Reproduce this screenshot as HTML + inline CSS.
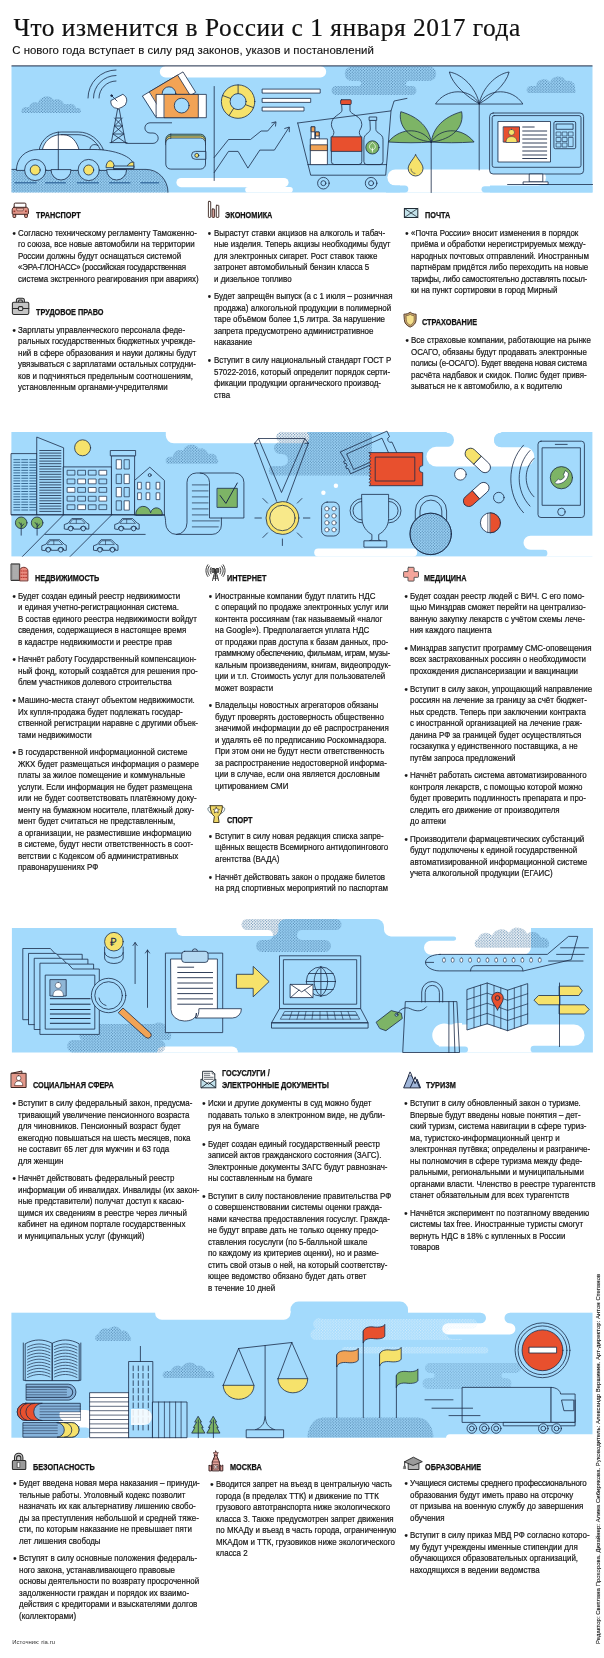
<!DOCTYPE html>
<html lang="ru">
<head>
<meta charset="utf-8">
<title>Что изменится в России с 1 января 2017 года</title>
<style>
html,body{margin:0;padding:0;background:#fff;}
body{width:604px;height:1658px;position:relative;overflow:hidden;font-family:"Liberation Sans",sans-serif;color:#1a1a1a;}
.abs{position:absolute;}
h1,.sub,.sec,.hd,.src,.cred{filter:grayscale(1);}
h1{position:absolute;margin:0;left:13.4px;top:12.4px;font-family:"Liberation Serif",serif;font-weight:normal;font-size:25.4px;line-height:30px;letter-spacing:0.53px;white-space:nowrap;color:#111;-webkit-text-stroke:.2px #111;}
.sub{position:absolute;left:12.2px;top:42.7px;font-size:11.4px;letter-spacing:.03px;-webkit-text-stroke:.12px #111;line-height:14px;white-space:nowrap;color:#111;}
.sec{position:absolute;white-space:nowrap;font-size:8.5px;line-height:11.5px;color:#161616;-webkit-text-stroke:.2px #161616;transform:scaleX(0.9353);transform-origin:0 0;}
.sec p{margin:0 0 6.2px 0;position:relative;}
.sec p i{position:absolute;font-style:normal;top:0;font-size:10px;margin-left:-.6px;}
.hd{position:absolute;white-space:nowrap;font-weight:bold;font-size:8.6px;line-height:11.8px;transform:scaleX(0.85);transform-origin:0 0;color:#111;-webkit-text-stroke:.25px #111;}
.ban{position:absolute;left:0;width:604px;overflow:visible;}
.ico{position:absolute;overflow:visible;}
.ln{stroke:#1b2b48;stroke-width:.8;stroke-linejoin:round;stroke-linecap:round;}
.src{position:absolute;left:12.2px;top:1637.9px;font-size:5.9px;line-height:8px;letter-spacing:.06px;color:#333;white-space:nowrap;}
.cred{position:absolute;left:593.8px;top:1643.7px;font-size:5.9px;line-height:8px;letter-spacing:.065px;color:#151515;-webkit-text-stroke:.12px #151515;white-space:nowrap;transform:rotate(-90deg);transform-origin:0 0;}
</style>
</head>
<body>
<h1>Что изменится в России с 1 января 2017 года</h1>
<div class="sub">С нового года вступает в силу ряд законов, указов и постановлений</div>
<svg class="ban" style="top:60px;height:140px" viewBox="0 60 604 140">
<defs>
<pattern id="ht" width="2.8" height="2.8" patternUnits="userSpaceOnUse"><circle cx=".7" cy=".7" r=".6" fill="#40739f"/><circle cx="2.1" cy="2.1" r=".6" fill="#40739f"/></pattern>
</defs>
<!-- sky -->
<rect x="11.5" y="66" width="581" height="126.5" fill="#a3dafc"/>
<!-- white cloud cut-outs -->
<g fill="#fff">
<path d="M165.5 66H320.5a5.7 5.7 0 0 1 0 11.4H165.5a5.7 5.7 0 0 1 0-11.4z"/>
<path d="M181 178H284a4.600 4.600 0 0 1 0 9.200H181a4.600 4.600 0 0 1 0-9.200z"/>
<path d="M248 187h42a2.800 2.800 0 0 1 0 5.600h-42a2.800 2.800 0 0 1 0-5.600z"/>
<path d="M395.400 169.500H538a8 8 0 0 1 0 16H395.400a8 8 0 0 1 0-16z"/>
<path d="M400 184h90v8.600h-90z"/>
</g>
<path d="M386 185.500h18.800a3.500 3.500 0 0 1 0 7h-18.800z" fill="#a3dafc"/><path d="M484.700 186.200h107.800v6.300h-107.800a3.150 3.150 0 0 1 0-6.300z" fill="#a3dafc"/>
<!-- halftone clouds -->
<g fill="url(#ht)">
<path d="M22 113a4 4 0 0 1 3-6h4a6 6 0 0 1 9-4a9 9 0 0 1 16-3a7 7 0 0 1 10 4h6a5 5 0 0 1 6 4h3a3 3 0 0 1 1 5z"/>
<path d="M352 66.500h77a7.250 7.250 0 0 1 0 14.500h-20a2.500 2.500 0 0 0-1 5h4a4.500 4.500 0 0 1 0 9h-76a4.500 4.500 0 0 1 0-9h22a2.500 2.500 0 0 0 1-5h-7a7.250 7.250 0 0 1 0-14.500z"/>
<path d="M528 93a4 4 0 0 1 2-7h6a8 8 0 0 1 14-4a9 9 0 0 1 16-1a7 7 0 0 1 9 8a3 3 0 0 1 0 4z"/>
<path d="M11.500 169.400H146a22 23.100 0 0 1 22 23.100H11.500z"/>
</g>
<line x1="11.5" y1="65.9" x2="592.5" y2="65.9" stroke="#1b2b48" stroke-width="1"/>
<!-- ground dashes -->
<g stroke="#3f74a6" stroke-width="1.400" fill="none"><path d="M14.600 182.800h22M45 182.800h21M77 182.800h22M109 182.800h21.500M140.400 182.800h18.600"/></g>
<path d="M11.500 169.400H146a22 23.100 0 0 1 22 23.100" fill="none" stroke="#1b2b48" stroke-width=".8"/>
<g class="ln">
<!-- car -->
<path d="M39.200 149.500c2-10 11-17.500 22-17.500h17c12 0 21 8 25.100 17.500z" fill="#a3dafc"/>
<path d="M42.400 149.500c1.500-8 9-14.800 18-14.800h3c8 0 13.500 7 15.600 14.800z" fill="#fff"/>
<path d="M61 134.700h17c10 0 18 6 22.300 14.800" fill="none"/>
<path d="M90 149.500c-.5-4 4-6.500 8-4" fill="none"/>
<path d="M16.400 170c0-11 8-20.500 22-20.500h55.600c20 0 39.800 7 39.800 16.500v2.600h-20v1.400z" fill="#a3dafc"/>
<path d="M58.300 132v38" fill="none"/>
<path d="M106 167.300a4.200 6.600 0 0 1 8.400 0zM127 167.300a6.800 5.300 0 0 1 6.800-5.300v5.300z" fill="#f6e26b"/>
<path d="M114 166h19.800v2.600h-19.800z" fill="#a3dafc"/>
<circle cx="35.200" cy="170" r="10.600" fill="#a3dafc"/><circle cx="35.200" cy="170" r="5" fill="#f6e26b"/>
<circle cx="88.700" cy="170" r="10.600" fill="#a3dafc"/><circle cx="88.700" cy="170" r="5" fill="#f6e26b"/>
<path d="M51 170a10 10 0 0 0 20 0zM106.600 170a10 10 0 0 0 20 0z" fill="#a3dafc"/>
<!-- tower -->
<path d="M111.300 142.600l6.300-33.600h1.600l6.300 33.600M113 134h10.800M114.500 126h7.800M116 118h4.800M111.300 142.600l12.500-8.600-9.300-8 7.800-8M125.500 142.600l-12.500-8.600 9.300-8-7.800-8M110 142.600h17" fill="none"/>
<path d="M110.800 101a7 7 0 0 0 11.200 6.200a7 7 0 0 0 1.200-12.700z" fill="#fff"/>
<path d="M117 101l-5-5" fill="none"/><circle cx="111.600" cy="95.600" r=".9" fill="#1b2b48"/>
<path d="M99 98a17 17 0 0 1 17-17M93.500 98a22.500 22.500 0 0 1 22.500-22.500M88 98a28 28 0 0 1 28-28" fill="none"/>
<!-- wire -->
<path d="M126 143.400h27a5.200 5.200 0 0 0 0-10.400h-3a5.100 5.100 0 0 1 0-10.200h21.600" fill="none"/>
<!-- banknotes -->
<path d="M142.700 95.800l40.300-23.900 12.700 20.400-40 23.900z" fill="#fff"/>
<path d="M149.600 91.700l28-16.600 12.700 20.400-28 16.600z" fill="#f2a355"/>
<circle cx="169" cy="93.600" r="6.800" fill="#a3dafc"/>
<rect x="156.500" y="94.400" width="49.800" height="23.300" fill="#fff"/>
<rect x="164.400" y="94.400" width="33.900" height="23.300" fill="#f2a355"/>
<circle cx="181.700" cy="105.600" r="7.400" fill="#a3dafc"/>
<!-- wallet -->
<path d="M170.800 134.200h29.700a5 5 0 0 1 5 5v4h-39.700v-4a5 5 0 0 1 5-5z" fill="#8fc08a"/>
<path d="M170.800 136h29.700a5 5 0 0 1 5 5v4h-39.700v-4a5 5 0 0 1 5-5z" fill="#f6e26b"/>
<rect x="165.800" y="138" width="39.700" height="31.100" rx="5" fill="#a3dafc"/>
<path d="M205.500 151.400h-10a3.950 3.950 0 0 0 0 7.900h10z" fill="#a3dafc"/><circle cx="196.800" cy="155.400" r="2" fill="#f6e26b"/>
<!-- divider -->
<path d="M214.200 86.500v94" fill="none"/>
<!-- donut -->
<circle cx="238.100" cy="101.600" r="16.700" fill="#f6e26b"/><circle cx="238.100" cy="101.600" r="8" fill="#a3dafc"/>
<path d="M238.100 84.900v8.700M222.600 95.500l8 3M253.600 107.700l-8-3M229 115.600l4.600-7.200" fill="none"/>
<!-- bars -->
<rect x="262.500" y="89.100" width="57.700" height="4" fill="#fff"/><rect x="262.500" y="98.400" width="48.200" height="4" fill="#fff"/><rect x="262.500" y="107.200" width="41.500" height="3.800" fill="#fff"/>
<!-- line charts -->
<path d="M214.200 157.500l14.300-18h22l10.600-8.500h6.600l7.500-8.700M271.800 122.800l4.200-1 -.5 4.300" fill="none"/>
<path d="M214.200 172.600l14.300-21.200h9.600l9.800 16.700 11.900-18h14.600l14.600-22.600M284.700 128.500l4.600-1.500 0 4.800" fill="none"/>
<!-- cart -->
<path d="M297.700 123l93.300-12.100 3.100-9.900 12.800-2.600M391 110.900l-5.300 64.300h-75l-13-52.200M307.800 164.600h78.800" fill="none"/>
<circle cx="323.400" cy="183.200" r="5.800" fill="#a3dafc"/><circle cx="323.400" cy="183.200" r="2.500" fill="#a3dafc"/>
<circle cx="371.100" cy="183.200" r="5.800" fill="#a3dafc"/><circle cx="371.100" cy="183.200" r="2.500" fill="#a3dafc"/>
<!-- cigarettes -->
<rect x="311.500" y="126.800" width="3.300" height="12.100" fill="#fff"/><rect x="311.500" y="126.800" width="3.300" height="5" fill="#f2a355"/>
<rect x="315.800" y="132" width="3.400" height="7" fill="#fff"/><rect x="315.800" y="132" width="3.400" height="4" fill="#f2a355"/>
<rect x="310.700" y="138.900" width="16.700" height="25.700" fill="#fff"/><rect x="310.700" y="144.800" width="16.700" height="5.800" fill="#f2a355"/>
<!-- big bottle -->
<path d="M342 104.500h8v6c0 4 11.800 5 11.800 14c0 4-2.500 5-2.500 8s2.500 4 2.500 8v21a3 3 0 0 1-3 3h-24.400a3 3 0 0 1-3-3v-21c0-4 2.500-5 2.500-8s-2.500-4-2.500-8c0-9 10.600-10 10.600-14z" fill="none"/>
<rect x="331.400" y="136.800" width="30.400" height="14.600" fill="#e8502e"/>
<rect x="340.600" y="99.700" width="10.600" height="4.800" rx="1" fill="#e8502e"/>
<!-- small bottle -->
<path d="M370.300 120.400h5.600v9c0 4 7.100 4 7.100 10v22.200a3 3 0 0 1-3 3h-13.100a3 3 0 0 1-3-3v-22.200c0-6 6.400-6 6.400-10z" fill="none"/>
<rect x="369.500" y="117" width="7.200" height="3.400" fill="#a3dafc"/>
<circle cx="372.400" cy="147.400" r="6.600" fill="#7db466"/>
<path d="M372.400 152v-4M372.400 150c-4-1-4-5 0-7.500c4 2.500 4 6.500 0 7.500z" fill="none" stroke="#fff" stroke-width=".7"/>
<!-- green palm -->
<path d="M431.200 142v50.500" fill="none"/>
<path d="M431.200 142c-2-14-12-25-30.400-30.300c-3 14 8 28 30.400 30.300zM431.200 142c2-14 12-25 30.400-30.300c3 14-8 28-30.400 30.300zM431.200 142c-8-14-30-16-42.900 0c16 1 30 1 42.900 0zM431.200 142c8-14 30-16 42.900 0c-16 1-30 1-42.900 0z" fill="#7db466"/>
<!-- drop -->
<path d="M415.600 154.800c2.500 5 7.400 9 7.400 13.800a7.400 7.400 0 0 1-14.800 0c0-4.800 4.900-8.800 7.400-13.800z" fill="#f6e26b"/>
<path d="M411 169a4.600 4.600 0 0 0 4 4.400" fill="none" stroke-width=".6"/>
<!-- outline palm -->
<path d="M479.200 103.700v66.300" fill="none"/>
<path d="M479.200 103.700c-11-6-27-19-29.900-31.700c13 2 27 16 29.900 31.700zM479.200 103.700c11-6 27-19 29.900-31.700c-13 2-27 16-29.900 31.700zM479.200 103.700c-9-16-33-16-43.500 0zM479.200 103.700c9-16 33-16 43.500 0z" fill="none"/>
<!-- monitor -->
<rect x="489.600" y="113" width="94" height="61" rx="3.500" fill="#a3dafc"/>
<rect x="492.200" y="115.600" width="88.800" height="51.700" rx="2" fill="#a3dafc"/>
<rect x="498.300" y="121.500" width="52.200" height="40.500" fill="#fff"/>
<rect x="503.600" y="126.800" width="15.900" height="15.300" fill="#e8502e"/>
<path d="M506 142.100c0-4 2.500-5.500 5.500-5.500s5.500 1.500 5.500 5.500zM511.500 129.300a3 3 0 1 1 0 6a3 3 0 1 1 0-6z" fill="#f6e26b" stroke-width=".5"/>
<path d="M522.700 127h11.500M522.700 131h24M522.700 135h24M522.700 139h24M522.700 143h24M522.700 147h24M522.700 151h24M522.700 155h24M522.700 158.500h24" fill="none" stroke-width=".9"/>
<rect x="553.900" y="121.500" width="21.800" height="27.200" rx="1.500" fill="#a3dafc"/>
<rect x="556.500" y="124" width="16.600" height="5.300" fill="#a3dafc"/>
<path d="M556.500 132h4.400v4h-4.400zM562.600 132h4.400v4h-4.400zM568.700 132h4.400v4h-4.400zM556.500 137.500h4.400v4h-4.400zM562.600 137.500h4.400v4h-4.400zM568.700 137.500h4.400v9h-4.400zM556.500 143h4.400v4h-4.400zM562.600 143h4.400v4h-4.400z" fill="#a3dafc" stroke-width=".6"/>
<path d="M529.600 174h13.200v7.900h-13.200z" fill="#fff"/><rect x="523.500" y="181.900" width="24.600" height="2.600" fill="#fff"/>
<path d="M507.600 184.500h85" fill="none"/>
</g>
</svg>

<svg class="ban" style="top:420px;height:140px" viewBox="0 420 604 140">
<rect x="11.4" y="432" width="581" height="124.400" fill="#a3dafc"/>
<g fill="#fff">
<path d="M165.800 431h139.200a6.600 6.600 0 0 1 0 12.300h-131.200a8 8 0 0 1-8-8z"/>
<path d="M446.700 432.700a7.300 7.300 0 0 1 0 14.600h54.600a7.300 7.300 0 0 1 0-14.600v-2h-54.600z"/>
<path d="M436.200 446.800h88.300a9.800 9.800 0 0 1 0 19.600h-88.300a9.800 9.800 0 0 1 0-19.600z"/>
<path d="M318.200 548.500h95a4 4 0 0 1 0 8h-95a4 4 0 0 1 0-8z"/>
<path d="M530.500 535.800h62.500v14h-62.500a7 7 0 0 1 0-14z"/>
<path d="M544 549h49v7.600h-49a3.300 3.300 0 0 0 0-6.800z"/>
</g>
<path d="M501.300 432.700h30v14.600h-30a7.300 7.300 0 0 1 0-14.600z" fill="#a3dafc"/>
<g fill="url(#ht)">
<path d="M167 463.700a4 4 0 0 1 2-7h4a7 7 0 0 1 10-6a9 9 0 0 1 16-2a7 7 0 0 1 9 5h4a5 5 0 0 1 5 5a3 3 0 0 1 0 5z"/>
<path d="M283 432h86a4 4 0 0 1 3 5v34a4 4 0 0 1-4 4.600h-95a5 5 0 0 1-1-9.600h10a6 6 0 0 0 0-12h-2a6 6 0 0 1 0-12a5 5 0 0 1 3-10z"/>
</g>
<g class="ln">
<rect x="11.400" y="453.600" width="25.700" height="61.200" fill="#a3dafc"/>
<path d="M13.800 459.7h6.100M21.700 459.7h6.100M29.700 459.7h6.100M13.800 462.3h6.100M21.700 462.3h6.100M29.700 462.3h6.100M13.800 465.0h6.100M21.700 465.0h6.100M29.700 465.0h6.100M13.800 467.6h6.100M21.700 467.6h6.100M29.700 467.6h6.100M13.800 470.3h6.100M21.700 470.3h6.100M29.700 470.3h6.100M13.800 472.9h6.100M21.700 472.9h6.100M29.700 472.9h6.100M13.800 475.6h6.100M21.700 475.6h6.100M29.700 475.6h6.100M13.800 478.2h6.100M21.700 478.2h6.100M29.700 478.2h6.100M13.800 480.9h6.100M21.700 480.9h6.100M29.700 480.9h6.100M13.800 483.5h6.100M21.700 483.5h6.100M29.700 483.5h6.100M13.800 486.2h6.100M21.700 486.2h6.100M29.700 486.2h6.100M13.800 488.8h6.100M21.700 488.8h6.100M29.700 488.8h6.100M13.800 491.5h6.100M21.700 491.5h6.100M29.700 491.5h6.100M13.800 494.1h6.100M21.700 494.1h6.100M29.700 494.1h6.100M13.800 496.8h6.100M21.700 496.8h6.100M29.700 496.8h6.100M13.800 499.4h6.100M21.700 499.4h6.100M29.700 499.4h6.100M13.800 502.1h6.100M21.700 502.1h6.100M29.700 502.1h6.100M13.800 504.7h6.100M21.700 504.7h6.100M29.700 504.7h6.100M13.800 507.4h6.100M21.700 507.4h6.100M29.700 507.4h6.100M13.800 510.0h6.100M21.700 510.0h6.100M29.700 510.0h6.100" fill="none" stroke-width=".9" stroke="#2d5c86"/>
<path d="M37.100 437.200l26.500 10.600v67h-26.500z" fill="#a3dafc"/>
<path d="M39.700 450.5h21.200M39.700 453.1h21.200M39.700 455.8h21.200M39.700 458.4h21.200M39.700 461.1h21.200M39.700 463.7h21.200M39.700 466.4h21.200M39.700 469.0h21.200M39.700 471.7h21.200M39.700 474.3h21.200M39.700 477.0h21.200M39.700 479.6h21.200M39.700 482.3h21.200M39.700 484.9h21.200M39.700 487.6h21.200M39.700 490.2h21.200M39.700 492.9h21.200M39.700 495.5h21.200M39.700 498.2h21.200M39.700 500.8h21.200M39.700 503.5h21.200M39.700 506.1h21.200M39.700 508.8h21.200M39.700 511.4h21.200" fill="none" stroke-width=".8"/>
<rect x="63.600" y="466.900" width="48.200" height="47.900" fill="#a3dafc"/>
<rect x="67.5" y="470.3" width="7.400" height="4.800" fill="#a3dafc" stroke-width=".7"/>
<rect x="78.1" y="470.3" width="7.400" height="4.800" fill="#a3dafc" stroke-width=".7"/>
<rect x="88.7" y="470.3" width="7.400" height="4.800" fill="#a3dafc" stroke-width=".7"/>
<rect x="99.3" y="470.3" width="7.400" height="4.800" fill="#fff" stroke-width=".7"/>
<rect x="67.5" y="479" width="7.400" height="4.800" fill="#a3dafc" stroke-width=".7"/>
<rect x="78.1" y="479" width="7.400" height="4.800" fill="#fff" stroke-width=".7"/>
<rect x="88.7" y="479" width="7.400" height="4.800" fill="#fff" stroke-width=".7"/>
<rect x="99.3" y="479" width="7.400" height="4.800" fill="#a3dafc" stroke-width=".7"/>
<rect x="67.5" y="487.5" width="7.400" height="4.800" fill="#fff" stroke-width=".7"/>
<rect x="78.1" y="487.5" width="7.400" height="4.800" fill="#a3dafc" stroke-width=".7"/>
<rect x="88.7" y="487.5" width="7.400" height="4.800" fill="#fff" stroke-width=".7"/>
<rect x="99.3" y="487.5" width="7.400" height="4.800" fill="#a3dafc" stroke-width=".7"/>
<rect x="67.5" y="496.3" width="7.400" height="4.800" fill="#a3dafc" stroke-width=".7"/>
<rect x="78.1" y="496.3" width="7.400" height="4.800" fill="#a3dafc" stroke-width=".7"/>
<rect x="88.7" y="496.3" width="7.400" height="4.800" fill="#a3dafc" stroke-width=".7"/>
<rect x="99.3" y="496.3" width="7.400" height="4.800" fill="#fff" stroke-width=".7"/>
<rect x="67.5" y="504.8" width="7.400" height="4.800" fill="#a3dafc" stroke-width=".7"/>
<rect x="78.1" y="504.8" width="7.400" height="4.800" fill="#fff" stroke-width=".7"/>
<rect x="88.7" y="504.8" width="7.400" height="4.800" fill="#a3dafc" stroke-width=".7"/>
<rect x="99.3" y="504.8" width="7.400" height="4.800" fill="#a3dafc" stroke-width=".7"/>
<rect x="111.800" y="455.800" width="22.800" height="59" fill="#a3dafc"/><rect x="110.700" y="450.500" width="24.900" height="5.300" fill="#a3dafc"/>
<rect x="116.6" y="459.7" width="4.800" height="9.300" fill="#fff" stroke-width=".7"/>
<rect x="124.5" y="459.7" width="4.800" height="9.300" fill="#a3dafc" stroke-width=".7"/>
<rect x="116.6" y="474.3" width="4.800" height="9.300" fill="#a3dafc" stroke-width=".7"/>
<rect x="124.5" y="474.3" width="4.800" height="9.300" fill="#fff" stroke-width=".7"/>
<rect x="116.6" y="487.5" width="4.800" height="9.300" fill="#fff" stroke-width=".7"/>
<rect x="124.5" y="487.5" width="4.800" height="9.300" fill="#a3dafc" stroke-width=".7"/>
<rect x="116.6" y="500.8" width="4.800" height="9.300" fill="#a3dafc" stroke-width=".7"/>
<rect x="124.5" y="500.8" width="4.800" height="9.300" fill="#fff" stroke-width=".7"/>
<path d="M134.600 514.800v-34.400l15.200-13.200 14.600 13.200v34.400z" fill="#a3dafc"/><circle cx="149.700" cy="475.100" r="1.500" fill="#a3dafc"/>
<rect x="138" y="482.3" width="3.300" height="6.800" fill="#fff" stroke-width=".7"/>
<rect x="146.5" y="482.3" width="3.300" height="6.800" fill="#fff" stroke-width=".7"/>
<rect x="156.5" y="482.3" width="3.300" height="6.800" fill="#fff" stroke-width=".7"/>
<rect x="138" y="492.8" width="3.300" height="6.800" fill="#fff" stroke-width=".7"/>
<rect x="146.5" y="492.8" width="3.300" height="6.800" fill="#fff" stroke-width=".7"/>
<rect x="156.5" y="492.8" width="3.300" height="6.800" fill="#fff" stroke-width=".7"/>
<path d="M135.800 514.800a7.400 7.400 0 0 1 14.800-2a5.800 5.800 0 0 1 11.700 2z" fill="#7db466"/>
<circle cx="82.600" cy="447.800" r="8" fill="#f6e26b"/>
<path d="M11.400 514.800h153M63.600 514.800l-41.100 41.600M111.800 514.800l-41.600 41.600M45 534.400h100.200" fill="none"/>
<circle cx="21.2" cy="522.800" r="5.800" fill="#7db466"/><path d="M21.2 535.200v-12M21.2 527l2.500-3M21.2 525l-2-2.500" fill="none"/>
<circle cx="37.1" cy="522.800" r="5.800" fill="#7db466"/><path d="M37.1 535.200v-12M37.1 527l2.500-3M37.1 525l-2-2.500" fill="none"/>
<path d="M64.3 528.6v-4l4-1.500 3.500-4.500h10.500l4.500 4.500 2 1v5h-2.500a3 3 0 0 0-6 0h-6.500a3 3 0 0 0-6 0z" fill="#a3dafc"/><path d="M69.8 523.1l2.800-3.500h8.700l3.500 3.500zM76.3 519.6v3.500" fill="none" stroke-width=".6"/><circle cx="70.8" cy="528.6" r="2.300" fill="#a3dafc"/><circle cx="83.3" cy="528.6" r="2.300" fill="#a3dafc"/>
<path d="M114.7 528.6v-4l4-1.500 3.500-4.500h10.500l4.500 4.500 2 1v5h-2.500a3 3 0 0 0-6 0h-6.500a3 3 0 0 0-6 0z" fill="#a3dafc"/><path d="M120.2 523.1l2.800-3.500h8.700l3.500 3.500zM126.7 519.6v3.500" fill="none" stroke-width=".6"/><circle cx="121.2" cy="528.6" r="2.300" fill="#a3dafc"/><circle cx="133.7" cy="528.6" r="2.300" fill="#a3dafc"/>
<path d="M41.8 549.8v-4l4-1.500 3.500-4.500h10.500l4.500 4.500 2 1v5h-2.500a3 3 0 0 0-6 0h-6.500a3 3 0 0 0-6 0z" fill="#a3dafc"/><path d="M47.3 544.3l2.800-3.500h8.700l3.500 3.500zM53.8 540.8v3.500" fill="none" stroke-width=".6"/><circle cx="48.3" cy="549.8" r="2.300" fill="#a3dafc"/><circle cx="60.8" cy="549.8" r="2.300" fill="#a3dafc"/>
<path d="M93.5 549.8v-4l4-1.500 3.500-4.500h10.500l4.500 4.500 2 1v5h-2.500a3 3 0 0 0-6 0h-6.500a3 3 0 0 0-6 0z" fill="#a3dafc"/><path d="M99.0 544.3l2.800-3.500h8.700l3.500 3.500zM105.5 540.8v3.500" fill="none" stroke-width=".6"/><circle cx="100.0" cy="549.8" r="2.300" fill="#a3dafc"/><circle cx="112.5" cy="549.8" r="2.300" fill="#a3dafc"/>
<path d="M164.400 514.800c1 3 1.200 5 1.200 8a10.700 11.600 0 0 0 21.400 0v-40.500a9.300 9.300 0 0 1 9.300-9.300h38.300a9.300 9.300 0 0 1 9.300 9.300v35.700h-34.400v-35.700a9.300 9.300 0 0 0-9.300-9.300" fill="none"/>
<path d="M176.400 534.400h35.700a9.300 9.300 0 0 0 9.300-9.300v-7.100" fill="none"/>
<path d="M192.300 484.9h15.800M192.300 490.9h15.800M192.300 496.9h15.800M192.300 502.9h15.800M192.300 508.9h15.800M192.300 514.9h15.800M192.300 520.900h27M192.300 526.900h26" fill="none" stroke-width=".7"/>
<rect x="217.400" y="488.300" width="19.900" height="19.100" fill="#7db466"/><path d="M220.100 495.500l5.800 7.900 11.400-20.400" fill="none" stroke-width="1"/>
<path d="M254.600 443.300l3.900-4.800h46.400l3.400 4.800M254.600 443.300l22 58M258.500 438.500l23 54 23.400-54M308.300 443.300l-21.500 58M254.600 443.300h3.500M308.300 443.300h-3.500" fill="none"/>
<circle cx="282.400" cy="518" r="16.400" fill="#f6e26b"/><circle cx="282.400" cy="518" r="12.700" fill="#f8e98a"/>
<path d="M261.400 518h-6.500M303.400 518h6.500M282.400 539v6.500M267.500 532.900l-4.600 4.600M297.300 532.900l4.600 4.600M267.500 503.100l-4.600-4.600M297.300 503.100l4.600-4.600" fill="none"/>
<rect x="321.600" y="502.100" width="17.700" height="33.900" rx="5.500" fill="#a3dafc"/>
<circle cx="326.9" cy="508.7" r="2.200" fill="#fff" stroke-width=".6"/>
<circle cx="334" cy="508.7" r="2.200" fill="#fff" stroke-width=".6"/>
<circle cx="326.9" cy="515.9" r="2.200" fill="#fff" stroke-width=".6"/>
<circle cx="334" cy="515.9" r="2.200" fill="#fff" stroke-width=".6"/>
<circle cx="326.9" cy="522.8" r="2.200" fill="#fff" stroke-width=".6"/>
<circle cx="334" cy="522.8" r="2.200" fill="#fff" stroke-width=".6"/>
<circle cx="326.9" cy="529.7" r="2.200" fill="#fff" stroke-width=".6"/>
<circle cx="334" cy="529.7" r="2.200" fill="#fff" stroke-width=".6"/>
<circle cx="323.400" cy="492.800" r="2.200" fill="#fff" stroke="none"/><circle cx="335.900" cy="485.700" r="2.200" fill="#fff" stroke="none"/>
<path d="M340.600 451.800l46.400-20.700 2.500 5.500a3 3 0 0 0 2.500 5.500l5 11-46.400 20.700-2.500-5.500-1.500.5-1-2.500 1.500-.5-1-2.500-1.500.5-1-2.500 1.500-.5z" fill="none"/>
<path d="M347 453.800l35-15.600 7 15.600-35 15.600z" fill="none"/>
<path d="M369.200 452.600h53.500v13a3.500 3.500 0 0 0 0 7v13.100h-53.500l1.500-1.650-1.500-1.650l1.500-1.650-1.500-1.650l1.500-1.650-1.500-1.650l1.500-1.650-1.500-1.650l1.500-1.650-1.500-1.650l1.500-1.650-1.500-1.650l1.500-1.650-1.500-1.650l1.500-1.650-1.500-1.650l1.500-1.650-1.500-1.650l1.500-1.650-1.500-1.650z" fill="#e8502e"/>
<rect x="375.600" y="457.100" width="39.200" height="23.900" fill="none"/>
<path d="M362.300 498.500a12.200 12.200 0 0 0 0 24.400M388.800 498.500a12.200 12.200 0 0 1 0 24.400M362.300 501.400a9.300 9.300 0 0 0 0 18.600M388.800 501.400a9.300 9.300 0 0 1 0 18.600" fill="none"/>
<path d="M362 494.400h26.600v24c0 8-5 13.500-9.900 16.100l0 5.300 2.500 1h-11.800l2.500-1 0-5.300c-4.900-2.600-9.900-8.100-9.900-16.100z" fill="#a3dafc"/>
<rect x="364.300" y="540.800" width="22.500" height="6.400" fill="#a3dafc"/>
<path d="M415.300 526v-15a15.650 15.650 0 0 1 31.300 0v15M420 524v-13a10.900 10.900 0 0 1 21.800 0v13" fill="none"/>
<clipPath id="kb"><circle cx="430.700" cy="533.900" r="20.700"/></clipPath><circle cx="430.700" cy="533.900" r="20.700" fill="#a3dafc"/><path d="M405 548.500h8.200a4 4 0 0 1 0 8h-8.200z" fill="#fff" stroke="none" clip-path="url(#kb)"/><circle cx="430.700" cy="533.900" r="20.700" fill="url(#ht)"/>
<g transform="translate(477.750 460.400) rotate(43.200)"><path d="M-15.400 0a5.500 5.500 0 0 1 5.500-5.500h9.900v11h-9.900a5.500 5.500 0 0 1-5.500-5.500z" fill="#f6e26b"/><path d="M0-5.500h9.900a5.500 5.500 0 0 1 0 11h-9.900z" fill="#fff"/></g>
<g transform="translate(476.200 494.500) rotate(-41.800)"><path d="M-15.400 0a5.500 5.500 0 0 1 5.500-5.500h9.900v11h-9.900a5.500 5.500 0 0 1-5.500-5.500z" fill="#e8502e"/><path d="M0-5.500h9.900a5.500 5.500 0 0 1 0 11h-9.900z" fill="#fff"/></g>
<circle cx="460.400" cy="474.300" r="5.800" fill="#fff"/><circle cx="498.800" cy="497.600" r="5.300" fill="#a3dafc"/>
<circle cx="490.400" cy="522.800" r="10" fill="#fff"/><path d="M490.400 512.800a10 10 0 0 1 0 20z" fill="#e8502e"/><path d="M487.800 513.200v19.200" fill="none" stroke-width=".6"/>
<path d="M523.500 445.200c-17 18-17 49.500 0 67.500M530 450.500c-14.500 15-14.500 40.600 0 55.600M534 458.400c-10.500 10-10.500 28.400 0 38.400" fill="none"/>
<rect x="538" y="441.200" width="46.400" height="76.300" rx="3" fill="#a3dafc"/><rect x="542.500" y="447.800" width="37.900" height="57.500" fill="#a3dafc"/>
<path d="M555.300 444.400h11.900" fill="none"/><circle cx="561.400" cy="511.900" r="3.700" fill="#a3dafc"/>
<circle cx="561.400" cy="477.700" r="11.100" fill="#7db466"/>
<path d="M565.600 470.700l2.800 2.300c.400 6-5.400 11.500-12 10.900l-1.500-1.500 3.500-3.300c1.100.900 2.100.900 2.500.800c1.600-.900 2.900-1.900 3.500-3c-.100-.900-.400-1.400-.800-2z" fill="#fff" stroke-width=".6"/>
</g></svg>
<svg class="ban" style="top:910px;height:150px" viewBox="0 910 604 150">
<rect x="11.900" y="928" width="581" height="124.500" fill="#a3dafc"/><path d="M278 940v-13a8 8 0 0 1 8-8h90a8 8 0 0 1 8 8v13z" fill="#a3dafc"/><path d="M176.400 926h101.900v4a6 6 0 0 1-6 6h-89.900a6 6 0 0 1-6-6z" fill="#fff"/><path d="M384 917h147v30a7.700 7.700 0 0 1-7.700 7.700h-92.300a7 7 0 0 1 0-14h23a2.150 2.150 0 0 0 0-4.300h-63a7 7 0 0 1-7-7z" fill="#fff"/>
<g fill="#fff">
<path d="M163 1046.500h69a6 6 0 0 1 6 6h-81a6 6 0 0 1 6-6z"/>
<path d="M449 1024.600h125a10.600 10.600 0 0 1 0 21.200h-40a3.400 3.400 0 0 0 0 6.800h-95v-6.800a10.600 10.600 0 0 1 10-21.200z"/>
<path d="M449 1031a8 8 0 0 1 8-8h5v12z"/>
</g>
<path d="M439 1046.600h26a3 3 0 0 1 0 6h-26z" fill="#a3dafc"/>
<g fill="url(#ht)">
<path d="M247 919h89a5.500 5.500 0 0 1 0 11h-34a5 5 0 0 0 0 10h23a6 6 0 0 1 0 12h-63a6 6 0 0 1 0-12h6a5 5 0 0 0 0-10h-21a5.500 5.500 0 0 1 0-11z"/>
<path d="M477 947.800a5 5 0 0 1 1-9a8 8 0 0 1 14-3a10 10 0 0 1 17-3a10 10 0 0 1 18 1a9 9 0 0 1 14 4a6 6 0 0 1 8 6a4 4 0 0 1-2 4z"/>
<path d="M82 1040a6 6 0 0 1 2-11a8 8 0 0 1 12-5h58a9 9 0 0 1 14 6a6 6 0 0 1 1 10h-9a6 6 0 0 1-2 12.500h-86a6.500 6.500 0 0 1 0-12.500z"/>
</g>
<g class="ln">
<path d="M23.2 948.5h27.200l5.300 5.800h26.500v65.400h-59z" fill="#a3dafc"/>
<path d="M28.9 953.4h27.200l5.300 5.800h26.500v65.400h-59z" fill="#a3dafc"/>
<path d="M34.6 958.3h27.200l5.300 5.800h26.500v65.400h-59z" fill="#a3dafc"/>
<path d="M40.3 963.2h27.200l5.300 5.800h26.500v65.400h-59z" fill="#a3dafc"/>
<rect x="45.600" y="975.100" width="49.200" height="54" fill="#a3dafc"/>
<rect x="50.300" y="979.600" width="15.900" height="16.400" fill="#8fb6d6"/>
<path d="M53 996c0-4.500 2-6 5.200-6s5.200 1.500 5.200 6zM58.200 982.300a3 3 0 1 1 0 6a3 3 0 1 1 0-6z" fill="#fff" stroke-width=".5"/>
<path d="M50.300 998.700h39.800M50.300 1004.200h39.800M50.300 1009.500h39.800M50.300 1014h39.800M50.300 1018.500h39.800M50.300 1023.300h39.800" fill="none" stroke-width="1"/>
<path d="M104.600 947v11a9.300 5.500 0 0 0 18.600 0v-11" fill="#a3dafc"/><path d="M104.600 952.500a9.300 5.500 0 0 0 18.600 0" fill="none"/>
<circle cx="113.900" cy="941.700" r="9.300" fill="#f6e26b"/>
<path d="M135.100 983.600v-41M133 945.500l2.100-3 2.100 3M147.500 1007.400v-57.500M145.400 953l2.100-3 2.100 3" fill="none"/>
<path d="M118.500 1012.500l4.500-4.500 27.500 25a3.200 3.200 0 0 1-4.500 4.500z" fill="#f2a355"/>
<circle cx="108.600" cy="995.500" r="17.200" fill="#a3dafc"/><circle cx="108.600" cy="995.500" r="13.800" fill="#a3dafc"/>
<path d="M99 998a10 10 0 0 0 7 7.500" fill="none"/>
<rect x="165.800" y="953.100" width="56.900" height="79.500" fill="#a3dafc"/>
<path d="M171 959h46.400v49.700h24a9 9 0 0 1-9 9.300h-37a9 9 0 0 0 1-5c0 6-6 8-12 8a13.400 11 0 0 1-13.400-11z" fill="#fff"/>
<path d="M196.400 1018c2-2 2.500-5 2.500-9.300h18.500" fill="none"/>
<path d="M177.700 967.200h16M177.700 972.500h34.900M177.700 977.700h34.900M177.700 983h34.900M177.700 988.300h34.900M177.700 993.600h34.900M177.700 998.900h34.900M177.700 1004.200h34.900" fill="none" stroke-width=".9"/>
<path d="M192.200 951.500a2.700 2.700 0 0 1 5.400 0z" fill="#b5d9f2"/><rect x="181.700" y="951.300" width="26.400" height="11.100" rx="3" fill="#b5d9f2"/>
<path d="M236.800 974.300h16.400v-7.900l15.900 15.200-15.900 15.200v-8.500h-16.400z" fill="#f6e26b"/>
<rect x="279.900" y="955.800" width="80.800" height="52.900" fill="#a3dafc"/><rect x="283.800" y="959.700" width="72.900" height="44.500" fill="#a3dafc"/>
<path d="M279.900 1008.700h80.800l7.400 14.100h-96.200zM271.900 1022.800h96.200v5.300h-96.200z" fill="#a3dafc"/>
<path d="M285 1011.500h70.500l2 3.700h-74.500zM283 1015.200h74.500l2.200 4h-79z" fill="none" stroke-width=".6"/>
<path d="M292 1011.500l-2.500 7.700M299 1011.500l-2 7.700M306 1011.500l-1.500 7.700M313 1011.500l-1 7.700M320 1011.500v7.700M327 1011.500l1 7.700M334 1011.500l1.500 7.700M341 1011.500l2 7.700M348 1011.500l2.500 7.700" fill="none" stroke-width=".6"/>
<circle cx="320.900" cy="981.500" r="14.600" fill="#a3dafc"/>
<path d="M320.900 966.900v29.200M306.300 981.500h29.200M308.500 973.500h24.800M308.500 989.500h24.800M320.900 966.900c-9 6-9 23.200 0 29.200M320.900 966.900c9 6 9 23.200 0 29.200" fill="none"/>
<rect x="290.500" y="984.400" width="22.500" height="13.200" fill="#fff"/><path d="M290.500 984.400l11.200 7.500 11.300-7.500M290.500 997.600l8.500-7.500M313 997.600l-8.500-7.500" fill="none"/>
<path d="M440 954.400h107.300l21.200-18h9.300l-6.600 23.300-47.700 11.200h-84c-7 0-14-4-14-8.500s7-8 14.500-8z" fill="#a3dafc"/>
<path d="M425.600 962.400h8" fill="none"/>
<path d="M470.500 970.900c0-3 2-5.300 5-5.300h42.500c3 0 5 2.300 5 5.300" fill="none"/>
<rect x="442.6" y="957.900" width="2.700" height="4.400" rx="1.350" fill="#fff" stroke-width=".6"/><rect x="451.3" y="957.900" width="2.700" height="4.400" rx="1.350" fill="#fff" stroke-width=".6"/><rect x="460.0" y="957.900" width="2.700" height="4.400" rx="1.350" fill="#fff" stroke-width=".6"/><rect x="468.7" y="957.900" width="2.700" height="4.400" rx="1.350" fill="#fff" stroke-width=".6"/><rect x="477.4" y="957.900" width="2.700" height="4.400" rx="1.350" fill="#fff" stroke-width=".6"/><rect x="486.1" y="957.900" width="2.700" height="4.400" rx="1.350" fill="#fff" stroke-width=".6"/><rect x="494.8" y="957.900" width="2.700" height="4.400" rx="1.350" fill="#fff" stroke-width=".6"/><rect x="503.5" y="957.900" width="2.700" height="4.400" rx="1.350" fill="#fff" stroke-width=".6"/><rect x="512.2" y="957.900" width="2.700" height="4.400" rx="1.350" fill="#fff" stroke-width=".6"/><rect x="521.0" y="957.900" width="2.700" height="4.400" rx="1.350" fill="#fff" stroke-width=".6"/><rect x="529.7" y="957.900" width="2.700" height="4.400" rx="1.350" fill="#fff" stroke-width=".6"/><rect x="538.4" y="957.900" width="2.700" height="4.400" rx="1.350" fill="#fff" stroke-width=".6"/>
<path d="M560.600 947.800h27.800M556.600 954.400h27.800M548.600 961h34.400" fill="none"/>
<path d="M421.700 1002v-10a10.500 10.500 0 0 1 21 0v10M425.200 1002v-9.500a7.100 7.100 0 0 1 14.200 0v9.500" fill="none"/>
<path d="M405.700 1001.600h51.200l2.600 50.900h-56.400z" fill="none"/><path d="M448.900 1001.600v50.900M453.400 1001.600l1.500 50.900" fill="none"/>
<path d="M376.400 1022l14.800-11.400 10.100 2.600 1 5.300-16.400 12.200-5.800-2.100z" fill="#7db466"/><circle cx="396.500" cy="1014.800" r="1.500" fill="#a3dafc"/>
<path d="M396.500 1014.800c3-5 8-9 14-6s12 3 16-2" fill="none"/>
<path d="M467.300 989.400l19.900-6.400 20.400 7.200 20.100-6.600v40.200l-20.100 6.900-20.400-6.900-19.900 6.100z" fill="#a3dafc"/>
<path d="M487.200 983v40.800M507.600 990.200v40.500" fill="none"/>
<path d="M467.300 999.500l19.900-6.400 20.400 7.200 20.100-6.600M467.300 1009.600l19.900-6.400 20.400 7.200 20.100-6.600M467.300 1019.700l19.900-6.400 20.400 7.200 20.100-6.600M474 987.300v40.500M480.600 985.100v40.500M494 985.400v40.800M500.800 987.800v40.600M514.300 988v40.400M521 985.800v40.300" fill="none" stroke-width=".7"/>
<path d="M497.500 1010c-2-4.500-5.800-7.500-5.800-11.900a5.800 5.800 0 0 1 11.600 0c0 4.400-3.800 7.400-5.800 11.900z" fill="#e8502e"/><circle cx="497.500" cy="998" r="2.300" fill="#e8502e"/>
<path d="M559.500 986.200h19.300l3.500 4.650-3.500 4.650h-19.300zM559.500 995.500h-21l-4.500 4.650 4.500 4.650h21zM559.500 1004.800h25.200l4.500 4.600-4.500 4.600h-25.200z" fill="#f6e26b"/>
<path d="M559.500 983v63.600" fill="none"/>
</g>
<text x="113.900" y="946" font-family="Liberation Sans, sans-serif" font-size="11.500" text-anchor="middle" fill="#1b2b48">₽</text>
</svg>
<svg class="ban" style="top:1295px;height:150px" viewBox="0 1295 604 150">
<defs><pattern id="hw" width="2.8" height="2.8" patternUnits="userSpaceOnUse"><circle cx=".7" cy=".7" r=".6" fill="#e4f3fd"/><circle cx="2.1" cy="2.1" r=".6" fill="#e4f3fd"/></pattern></defs>
<rect x="11.400" y="1312.700" width="581.100" height="125" fill="#a3dafc"/>
<path d="M290.500 1320v-10.400a8 8 0 0 1 8-8h101.500a8 8 0 0 1 8 8v10.400z" fill="#a3dafc"/>
<g fill="#fff">
<path d="M155.200 1311h135.300v2a6.700 6.700 0 0 1-6.700 6.700h-122a6.700 6.700 0 0 1-6.700-6.700z"/>
<path d="M480.700 1311h29.100v1.700a5.300 5.300 0 0 0 0 10.600a5.600 5.600 0 0 1 0 11.200h-62a5.600 5.600 0 0 1 0-11.200h32.900a5.300 5.300 0 0 0 0-10.600z"/>
<path d="M450 1434.200h143v4h-147a4 4 0 0 1 4-4z"/>
<path d="M66 1410h20a8 8 0 0 1 0 16h-20a8 8 0 0 1 0-16z"/><path d="M80 1425h66a6.500 6.500 0 0 1 0 13h-66z"/><path d="M118 1409h20a8 8 0 0 1 0 16h-20z"/>
</g>
<path d="M72 1427.500h14a5.200 5.200 0 0 1 0 10.400h-14z" fill="#a3dafc"/>
<path d="M120 1427.500h10v10.400h-10a5.200 5.200 0 0 1 0-10.400z" fill="#a3dafc"/>
<g fill="url(#ht)">
<path d="M96.500 1341a4 4 0 0 1 2-7a7 7 0 0 1 10-5a8 8 0 0 1 13 2a6 6 0 0 1 8 5a3.500 3.500 0 0 1 1 5z"/>
<path d="M164 1378a4 4 0 0 1 2-7h5a7 7 0 0 1 11-4a9 9 0 0 1 15-1a7 7 0 0 1 9 5h4a4 4 0 0 1 4 4a2.500 2.500 0 0 1 0 3z"/>
<path d="M323 1417.600h95a15.400 20 0 0 1 15.400 20h-125.900a15.500 20 0 0 1 15.500-20z"/>
<path opacity=".62" d="M430 1363h86a5 5 0 0 1 0 10h-12a2.500 2.500 0 0 0 0 5h2a5.500 5.500 0 0 1 0 11h-78a5.500 5.500 0 0 1 0-11h4a2.500 2.500 0 0 0 0-5h-2a5 5 0 0 1 0-10z"/>
</g>
<g fill="url(#hw)">
<path d="M322 1319h150a5 5 0 0 1 0 10h-20a5 5 0 0 0 0 10h10v1h-146a5.500 5.500 0 0 1 0-11a5 5 0 0 1 6-10z"/>
<path d="M345 1347h140a3.300 3.300 0 0 1 0 6.600h-140a3.300 3.300 0 0 1 0-6.600z"/>
</g>
<g class="ln">
<path d="M23.300 1343v37.300h57.500v-37.300" fill="#a3dafc"/>
<path d="M25.200 1380.300v-36.500c9-5 18-5 27-.5v37zM79.200 1380.300v-36.500c-9-5-18-5-27-.5v37z" fill="#a3dafc"/>
<path d="M27.500 1347.0c8-4 15-4 22.500-.500M77 1347.0c-8-4-15-4-22.500-.500M27.500 1350.0c8-4 15-4 22.500-.500M77 1350.0c-8-4-15-4-22.500-.500M27.500 1353.1c8-4 15-4 22.500-.500M77 1353.1c-8-4-15-4-22.500-.500M27.500 1356.2c8-4 15-4 22.500-.500M77 1356.2c-8-4-15-4-22.500-.500M27.500 1359.2c8-4 15-4 22.500-.500M77 1359.2c-8-4-15-4-22.500-.500M27.500 1362.2c8-4 15-4 22.500-.500M77 1362.2c-8-4-15-4-22.500-.500M27.500 1365.3c8-4 15-4 22.500-.500M77 1365.3c-8-4-15-4-22.500-.500M27.500 1368.3c8-4 15-4 22.500-.500M77 1368.3c-8-4-15-4-22.500-.500M27.500 1371.4c8-4 15-4 22.500-.500M77 1371.4c-8-4-15-4-22.500-.500M27.500 1374.5c8-4 15-4 22.500-.500M77 1374.5c-8-4-15-4-22.500-.500M27.500 1377.5c8-4 15-4 22.500-.500M77 1377.5c-8-4-15-4-22.500-.500" fill="none" stroke-width=".7"/>
<path d="M26.500 1384.200h42.300a8 8 0 0 1 0 15.900h-42.300z" fill="#86b4dc"/>
<path d="M26.500 1387h41a5.200 5.200 0 0 1 0 10.400h-41M26.500 1389.600h40M26.500 1392.200h40M26.500 1394.800h40" fill="none" stroke="#1b2b48" stroke-width=".55"/>
<path d="M26.500 1387h41a5.200 5.200 0 0 1 0 10.400h-41" fill="none" stroke-width=".6"/>
<path d="M25.800 1403.300h54.500v17.200h-54.500a8.600 8.600 0 0 1 0-17.200z" fill="#86b4dc"/>
<path d="M60 1412h20.300v8.500h-17a6 6 0 0 1-3.300-8.500z" fill="#fff" stroke="none"/><path d="M40 1406.200h40.300M40 1409h40.300M40 1411.800h40.300M40 1414.600h40.300M40 1417.400h40.300" fill="none" stroke="#1b2b48" stroke-width=".55"/>
<path d="M25.800 1403.300h16.500a8.600 8.600 0 0 0 0 17.200h-16.500a8.600 8.600 0 0 1 0-17.200z" fill="#e8502e"/>
<path d="M34.500 1403.300a8.600 8.600 0 0 0 0 17.200M27 1403.500a8.600 8.600 0 0 0 0 16.800" fill="none"/>
<path d="M23.300 1422.600h48.400a7.300 7.300 0 0 1 0 14.600h-48.400z" fill="#86b4dc"/>
<path d="M23.300 1425.300h34M23.300 1428h34M23.300 1430.700h34M23.300 1433.400h34" fill="none" stroke="#1b2b48" stroke-width=".55"/>
<path d="M57 1422.600h14.700a7.300 7.300 0 0 1 0 14.600h-14.700a7.300 7.300 0 0 0 0-14.600z" fill="#f6e26b"/>
<path d="M64.500 1422.600a7.300 7.300 0 0 1 0 14.600" fill="none"/>
<rect x="90" y="1392.700" width="39" height="45" fill="#fff"/>
<path d="M90 1397.5h39M90 1401.9h39M90 1406.3h39M90 1410.7h39M90 1415.1h39M90 1419.5h39M90 1423.9h39M90 1428.3h39M90 1432.7h39" fill="none" stroke-width=".7"/>
<rect x="129" y="1361.500" width="23.800" height="76.200" fill="#a3dafc"/><path d="M140.400 1346.400v15.100" fill="none"/>
<path d="M133.2 1366.0v4.800M138.3 1366.0v4.800M143 1366.0v4.800M148.3 1366.0v4.800M133.2 1373.4v4.800M138.3 1373.4v4.800M143 1373.4v4.800M148.3 1373.4v4.800M133.2 1380.8v4.800M138.3 1380.8v4.800M143 1380.8v4.800M148.3 1380.8v4.800M133.2 1388.2v4.800M138.3 1388.2v4.800M143 1388.2v4.800M148.3 1388.2v4.800M133.2 1395.6v4.800M138.3 1395.6v4.800M143 1395.6v4.800M148.3 1395.6v4.800M133.2 1403.0v4.800M138.3 1403.0v4.800M143 1403.0v4.800M148.3 1403.0v4.800M133.2 1410.4v4.800M138.3 1410.4v4.800M143 1410.4v4.800M148.3 1410.4v4.800M133.2 1417.8v4.800M138.3 1417.8v4.800M143 1417.8v4.800M148.3 1417.8v4.800M133.2 1425.2v4.800M138.3 1425.2v4.800M143 1425.2v4.800M148.3 1425.2v4.800" fill="none" stroke-width=".8"/>
<path d="M131 1409h13a8 8 0 0 1 0 16h-13z" fill="#fff" stroke="none" opacity=".85"/>
<rect x="152.800" y="1402" width="34.200" height="35.700" fill="#a3dafc"/><path d="M158.600 1402v35.700M164.400 1402v35.700M169.700 1402v35.700M175.600 1402v35.700M181.100 1402v35.700" fill="none" stroke-width=".7"/>
<path d="M198.3 1416.600l3.200 5.500h-1.500l3.200 5.500h-1.500l3.200 5.500h-13.200l3.200-5.500h-1.500l3.200-5.500h-1.500z" fill="#7db466"/><path d="M198.3 1420v17.700" fill="none"/>
<path d="M213.4 1416.600l3.200 5.500h-1.500l3.200 5.500h-1.500l3.200 5.500h-13.200l3.200-5.500h-1.500l3.200-5.500h-1.500z" fill="#7db466"/><path d="M213.4 1420v17.700" fill="none"/>
<path d="M238.600 1348.500l53.200-6M265.100 1345.600v71l-1 5c-1 4-5 7-9 8.200h20c-4-1.200-8-4.200-9-8.200l-1-5" fill="none"/>
<rect x="246.600" y="1429.800" width="37" height="7.900" fill="#a3dafc"/>
<path d="M238.600 1348.500l-15.400 36.800M238.600 1348.500l15.400 36.800M291.800 1342.500l-13.800 36.200M291.800 1342.500l15.900 36.200" fill="none"/>
<path d="M223.200 1385.300h30.800c0 8-7 14-15.400 14s-15.400-6-15.400-14z" fill="#f6e26b"/><path d="M278 1378.700h29.700c0 8-6.600 14.100-14.850 14.100s-14.850-6.100-14.850-14.100z" fill="#f6e26b"/>
<path d="M336.8 1354.9v62.7" fill="none"/><path d="M336.8 1354.9c1-3.500 5.500-4.600 10.500-4s10-.200 11-2.600v11.700c-1 2.400-6 3.200-11 2.600s-9.500.500-10.500 4z" fill="#f2a355"/>
<path d="M363.3 1331v86.6" fill="none"/><path d="M363.3 1331.0c1-3.500 5.500-4.600 10.500-4s10-.200 11-2.600v11.700c-1 2.400-6 3.200-11 2.600s-9.500.500-10.500 4z" fill="#e8502e"/>
<path d="M379.7 1354v63.6" fill="none"/><path d="M379.7 1354.0c1-3.500 5.500-4.600 10.500-4s10-.200 11-2.600v11.700c-1 2.400-6 3.200-11 2.600s-9.500.500-10.500 4z" fill="#f6e26b"/>
<path d="M396.4 1375.5v42.1" fill="none"/><path d="M396.4 1375.5c1-3.500 5.500-4.600 10.500-4s10-.200 11-2.600v11.700c-1 2.400-6 3.200-11 2.600s-9.500.500-10.500 4z" fill="#7db466"/>
<circle cx="542.500" cy="1350.300" r="27.400" fill="#a3dafc"/><circle cx="542.500" cy="1350.300" r="24.400" fill="#a3dafc"/><circle cx="542.500" cy="1350.300" r="20.400" fill="#e8502e"/><rect x="529.300" y="1347.200" width="27.300" height="5.800" fill="#fff"/>
<rect x="462.500" y="1387.400" width="88.800" height="35" fill="#a3dafc"/>
<path d="M551.300 1387.400c5 0 9 3 9.300 6.600h14.500v28.400h-23.800z" fill="#a3dafc"/>
<path d="M561.900 1400h11.900v10.700h-9.500zM575.100 1400v22" fill="none"/>
<path d="M503.600 1422.400h71.500v3.400h-71.500z" fill="#a3dafc"/>
<circle cx="471.8" cy="1428.500" r="4.800" fill="#a3dafc"/><circle cx="471.8" cy="1428.500" r="2.400" fill="#a3dafc"/>
<circle cx="484.3" cy="1428.500" r="4.800" fill="#a3dafc"/><circle cx="484.3" cy="1428.500" r="2.400" fill="#a3dafc"/>
<circle cx="496.2" cy="1428.500" r="4.800" fill="#a3dafc"/><circle cx="496.2" cy="1428.500" r="2.400" fill="#a3dafc"/>
<circle cx="543.3" cy="1428.500" r="4.800" fill="#a3dafc"/><circle cx="543.3" cy="1428.500" r="2.400" fill="#a3dafc"/>
<circle cx="556.6" cy="1428.500" r="4.800" fill="#a3dafc"/><circle cx="556.6" cy="1428.500" r="2.400" fill="#a3dafc"/>
<path d="M425 1399.800h28M432 1408.200h40.600M449 1415.600h31" fill="none"/>
</g></svg>
<div class="hd" style="left:35.7px;top:209.7px">ТРАНСПОРТ</div>
<div class="sec" style="left:18.2px;top:227.8px">
<p><i style="left:-5.3px">•</i>Согласно техническому регламенту Таможенно-<br>
го союза, все новые автомобили на территории<br>
России должны будут оснащаться системой<br>
<span style="letter-spacing:-0.214px">«ЭРА-ГЛОНАСС» (российская государственная</span><br>
система экстренного реагирования при авариях)</p>
</div>
<div class="hd" style="left:35.7px;top:306.7px">ТРУДОВОЕ ПРАВО</div>
<div class="sec" style="left:18.2px;top:324.7px">
<p><i style="left:-5.3px">•</i>Зарплаты управленческого персонала феде-<br>
ральных государственных бюджетных учрежде-<br>
ний в сфере образования и науки должны будут<br>
увязываться с зарплатами остальных сотрудни-<br>
ков и подчиняться предельным соотношениям,<br>
установленным органами-учредителями</p>
</div>
<div class="hd" style="left:225.2px;top:209.7px">ЭКОНОМИКА</div>
<div class="sec" style="left:213.9px;top:227.8px">
<p><i style="left:-6.0px">•</i>Вырастут ставки акцизов на алкоголь и табач-<br>
ные изделия. Теперь акцизы необходимы будут<br>
для электронных сигарет. Рост ставок также<br>
затронет автомобильный бензин класса 5<br>
и дизельное топливо</p>
<p><i style="left:-6.0px">•</i>Будет запрещён выпуск (а с 1 июля – розничная<br>
продажа) алкогольной продукции в полимерной<br>
таре объёмом более 1,5 литра. За нарушение<br>
запрета предусмотрено административное<br>
наказание</p>
<p><i style="left:-6.0px">•</i>Вступит в силу национальный стандарт ГОСТ Р<br>
57022-2016, который определит порядок серти-<br>
фикации продукции органического производ-<br>
ства</p>
</div>
<div class="hd" style="left:424.5px;top:209.7px">ПОЧТА</div>
<div class="sec" style="left:410.8px;top:227.8px">
<p><i style="left:-5.7px">•</i>«Почта России» вносит изменения в порядок<br>
приёма и обработки нерегистрируемых между-<br>
народных почтовых отправлений. Иностранным<br>
партнёрам придётся либо переходить на новые<br>
<span style="letter-spacing:-0.226px">тарифы, либо самостоятельно доставлять посыл-</span><br>
ки на пункт сортировки в город Мирный</p>
</div>
<div class="hd" style="left:421.8px;top:316.9px">СТРАХОВАНИЕ</div>
<div class="sec" style="left:410.5px;top:335.0px">
<p><i style="left:-5.3px">•</i>Все страховые компании, работающие на рынке<br>
ОСАГО, обязаны будут продавать электронные<br>
<span style="letter-spacing:-0.19px">полисы (е-ОСАГО). Будет введена новая система</span><br>
расчёта надбавок и скидок. Полис будет привя-<br>
зываться не к автомобилю, а к водителю</p>
</div>
<div class="hd" style="left:35.2px;top:572.7px">НЕДВИЖИМОСТЬ</div>
<div class="sec" style="left:18.2px;top:590.7px">
<p><i style="left:-5.3px">•</i>Будет создан единый реестр недвижимости<br>
и единая учетно-регистрационная система.<br>
В состав единого реестра недвижимости войдут<br>
сведения, содержащиеся в настоящее время<br>
в кадастре недвижимости и реестре прав</p>
<p><i style="left:-5.3px">•</i>Начнёт работу Государственный компенсацион-<br>
ный фонд, который создаётся для решения про-<br>
блем участников долевого строительства</p>
<p><i style="left:-5.3px">•</i>Машино-места станут объектом недвижимости.<br>
Их купля-продажа будет подлежать государ-<br>
ственной регистрации наравне с другими объек-<br>
тами недвижимости</p>
<p><i style="left:-5.3px">•</i>В государственной информационной системе<br>
ЖКХ будет размещаться информация о размере<br>
платы за жилое помещение и коммунальные<br>
услуги. Если информация не будет размещена<br>
или не будет соответствовать платёжному доку-<br>
менту на бумажном носителе, платёжный доку-<br>
мент будет считаться не представленным,<br>
а организации, не разместившие информацию<br>
в системе, будут нести ответственность в соот-<br>
ветствии с Кодексом об административных<br>
правонарушениях РФ</p>
</div>
<div class="hd" style="left:226.9px;top:572.7px">ИНТЕРНЕТ</div>
<div class="sec" style="left:214.6px;top:590.7px">
<p><i style="left:-6.2px">•</i>Иностранные компании будут платить НДС<br>
с операций по продаже электронных услуг или<br>
контента россиянам (так называемый «налог<br>
на Google»). Предполагается уплата НДС<br>
от продажи прав доступа к базам данных, про-<br>
<span style="letter-spacing:-0.219px">граммному обеспечению, фильмам, играм, музы-</span><br>
кальным произведениям, книгам, видеопродук-<br>
ции и т.п. Стоимость услуг для пользователей<br>
может возрасти</p>
<p><i style="left:-6.2px">•</i>Владельцы новостных агрегаторов обязаны<br>
будут проверять достоверность общественно<br>
значимой информации до её распространения<br>
и удалять её по предписанию Роскомнадзора.<br>
При этом они не будут нести ответственность<br>
за распространение недостоверной информа-<br>
ции в случае, если она является дословным<br>
цитированием СМИ</p>
</div>
<div class="hd" style="left:226.9px;top:814.7px">СПОРТ</div>
<div class="sec" style="left:214.6px;top:830.9px">
<p><i style="left:-6.2px">•</i>Вступит в силу новая редакция списка запре-<br>
щённых веществ Всемирного антидопингового<br>
агентства (ВАДА)</p>
<p><i style="left:-6.2px">•</i>Начнёт действовать закон о продаже билетов<br>
на ряд спортивных мероприятий по паспортам</p>
</div>
<div class="hd" style="left:424.1px;top:572.7px">МЕДИЦИНА</div>
<div class="sec" style="left:410.2px;top:590.7px">
<p><i style="left:-5.3px">•</i>Будет создан реестр людей с ВИЧ. С его помо-<br>
щью Минздрав сможет перейти на централизо-<br>
ванную закупку лекарств с учётом схемы лече-<br>
ния каждого пациента</p>
<p><i style="left:-5.3px">•</i>Минздрав запустит программу СМС-оповещения<br>
всех застрахованных россиян о необходимости<br>
прохождения диспансеризации и вакцинации</p>
<p><i style="left:-5.3px">•</i>Вступит в силу закон, упрощающий направление<br>
россиян на лечение за границу за счёт бюджет-<br>
ных средств. Теперь при заключении контракта<br>
с иностранной организацией на лечение граж-<br>
данина РФ за границей будет осуществляться<br>
госзакупка у единственного поставщика, а не<br>
путём запроса предложений</p>
<p><i style="left:-5.3px">•</i>Начнёт работать система автоматизированного<br>
контроля лекарств, с помощью которой можно<br>
будет проверить подлинность препарата и про-<br>
следить его движение от производителя<br>
до аптеки</p>
<p><i style="left:-5.3px">•</i>Производители фармацевтических субстанций<br>
будут подключены к единой государственной<br>
автоматизированной информационной системе<br>
учета алкогольной продукции (ЕГАИС)</p>
</div>
<div class="hd" style="left:32.5px;top:1079.8px">СОЦИАЛЬНАЯ СФЕРА</div>
<div class="sec" style="left:18.2px;top:1098.0px">
<p><i style="left:-5.3px">•</i>Вступит в силу федеральный закон, предусма-<br>
тривающий увеличение пенсионного возраста<br>
для чиновников. Пенсионный возраст будет<br>
ежегодно повышаться на шесть месяцев, пока<br>
не составит 65 лет для мужчин и 63 года<br>
для женщин</p>
<p><i style="left:-5.3px">•</i>Начнёт действовать федеральный реестр<br>
информации об инвалидах. Инвалиды (их закон-<br>
ные представители) получат доступ к касаю-<br>
щимся их сведениям в реестре через личный<br>
кабинет на едином портале государственных<br>
и муниципальных услуг (функций)</p>
</div>
<div class="hd" style="left:221.9px;top:1068.3px">ГОСУСЛУГИ /<br>ЭЛЕКТРОННЫЕ ДОКУМЕНТЫ</div>
<div class="sec" style="left:208.2px;top:1098.0px">
<p><i style="left:-5.6px">•</i>Иски и другие документы в суд можно будет<br>
подавать только в электронном виде, не дубли-<br>
руя на бумаге</p>
<p><i style="left:-5.6px">•</i>Будет создан единый государственный реестр<br>
записей актов гражданского состояния (ЗАГС).<br>
Электронные документы ЗАГС будут равнознач-<br>
ны составленным на бумаге</p>
<p><i style="left:-5.6px">•</i>Вступит в силу постановление правительства РФ<br>
о совершенствовании системы оценки гражда-<br>
нами качества предоставления госуслуг. Гражда-<br>
не будут вправе дать не только оценку предо-<br>
ставления госуслуги (по 5-балльной шкале<br>
по каждому из критериев оценки), но и разме-<br>
стить свой отзыв о ней, на который соответству-<br>
ющее ведомство обязано будет дать ответ<br>
в течение 10 дней</p>
</div>
<div class="hd" style="left:426.2px;top:1079.8px">ТУРИЗМ</div>
<div class="sec" style="left:410.3px;top:1098.0px">
<p><i style="left:-5.5px">•</i>Вступит в силу обновленный закон о туризме.<br>
Впервые будут введены новые понятия – дет-<br>
ский туризм, система навигации в сфере туриз-<br>
ма, туристско-информационный центр и<br>
электронная путёвка; определены и разграниче-<br>
ны полномочия в сфере туризма между феде-<br>
ральными, региональными и муниципальными<br>
органами власти. Членство в реестре турагентств<br>
станет обязательным для всех турагентств</p>
<p><i style="left:-5.5px">•</i>Начнётся эксперимент по поэтапному введению<br>
системы tax free. Иностранные туристы смогут<br>
вернуть НДС в 18% с купленных в России<br>
товаров</p>
</div>
<div class="hd" style="left:32.5px;top:1461.6px">БЕЗОПАСНОСТЬ</div>
<div class="sec" style="left:19.3px;top:1478.3px">
<p><i style="left:-5.7px">•</i>Будет введена новая мера наказания – принуди-<br>
тельные работы. Уголовный кодекс позволит<br>
назначать их как альтернативу лишению свобо-<br>
ды за преступления небольшой и средней тяже-<br>
сти, по которым наказание не превышает пяти<br>
лет лишения свободы</p>
<p><i style="left:-5.7px">•</i>Вступят в силу основные положения федераль-<br>
ного закона, устанавливающего правовые<br>
основы деятельности по возврату просроченной<br>
задолженности граждан и порядок их взаимо-<br>
действия с кредиторами и взыскателями долгов<br>
(коллекторами)</p>
</div>
<div class="hd" style="left:229.8px;top:1462.2px">МОСКВА</div>
<div class="sec" style="left:215.6px;top:1479.2px">
<p><i style="left:-5.7px">•</i>Вводится запрет на въезд в центральную часть<br>
города (в пределах ТТК) и движение по ТТК<br>
грузового автотранспорта ниже экологического<br>
класса 3. Также предусмотрен запрет движения<br>
по МКАДу и въезд в часть города, ограниченную<br>
МКАДом и ТТК, грузовиков ниже экологического<br>
класса 2</p>
</div>
<div class="hd" style="left:424.9px;top:1461.6px">ОБРАЗОВАНИЕ</div>
<div class="sec" style="left:410.2px;top:1478.3px">
<p><i style="left:-5.3px">•</i><span style="letter-spacing:-0.163px">Учащиеся системы среднего профессионального</span><br>
образования будут иметь право на отсрочку<br>
от призыва на военную службу до завершения<br>
обучения</p>
<p><i style="left:-5.3px">•</i>Вступит в силу приказ МВД РФ согласно которо-<br>
му будут учреждены именные стипендии для<br>
обучающихся образовательных организаций,<br>
находящихся в ведении ведомства</p>
</div>
<svg class="abs" style="left:0;top:0" width="604" height="1658" viewBox="0 0 604 1658">
<g stroke-linejoin="round" stroke-linecap="round">
<!-- transport -->
<g stroke="#3f2420" stroke-width="1">
<path d="M14.200 207.300v-3.200a1 1 0 0 1 1-1h9.700a1 1 0 0 1 1 1v3.200" fill="#fff"/>
<rect x="13" y="213.500" width="2.700" height="4" rx=".8" fill="#e8a094"/><rect x="24.700" y="213.500" width="2.700" height="4" rx=".8" fill="#e8a094"/>
<path d="M13.800 207.300h12.800c1 0 1.800 1.500 1.800 3v3c0 .600-.400 1-1 1h-14.200c-.600 0-1-.400-1-1v-3c0-1.500.600-3 1.600-3z" fill="#e3978a"/>
<path d="M16.500 208.300h7.500l-1 2.600h-5.500z" fill="#eeb0a4" stroke-width=".5"/>
<rect x="13.500" y="210.500" width="1.800" height="1.600" fill="#9c3a30" stroke="none"/><rect x="25" y="210.500" width="1.800" height="1.600" fill="#9c3a30" stroke="none"/>
</g>
<!-- labor -->
<g stroke="#2b2b2b" stroke-width="1.05">
<path d="M16.400 302.200v-2a2 2 0 0 1 2-2h4a2 2 0 0 1 2 2v2M18.600 302.200v-1.200a1 1 0 0 1 1-1h1.700a1 1 0 0 1 1 1v1.200" fill="#c9c9c9"/>
<rect x="12.400" y="302.200" width="16.400" height="12.200" rx="1.300" fill="#c4c4c4"/>
<path d="M12.400 308.400h16.400" fill="none"/>
<rect x="18.400" y="306.600" width="4.400" height="3.800" rx="1.200" fill="#d8d8d8"/>
</g>
<!-- economy -->
<g stroke="#45302b" stroke-width=".95">
<rect x="208.400" y="201.400" width="2.300" height="16" rx=".6" fill="#fff"/>
<rect x="212.100" y="209" width="2.500" height="8.400" rx=".6" fill="#d9a29a"/>
<rect x="216.300" y="205.300" width="2.500" height="12.100" rx=".4" fill="#fff"/>
</g>
<!-- post -->
<g stroke="#222c36" stroke-width="1.05">
<rect x="404.400" y="208.400" width="13.400" height="9.100" fill="#c3e2ea"/>
<path d="M404.400 208.400l13.400 9.100M417.800 208.400l-13.400 9.100" fill="none" stroke-width=".8"/>
</g>
<!-- insurance -->
<g stroke="#4d3628" stroke-width=".95">
<path d="M404.300 314.200c2.500 0 4.200-.800 5.900-2c1.700 1.200 3.400 2 5.900 2v5.500c0 3.500-2.500 6-5.900 7.400c-3.400-1.400-5.900-3.900-5.900-7.400z" fill="#c9a56e"/>
<path d="M406.300 315.700c1.500 0 2.800-.500 3.900-1.300c1.100.800 2.400 1.300 3.900 1.300v4.200c0 2.500-1.600 4.200-3.900 5.300c-2.300-1.100-3.900-2.800-3.900-5.300z" fill="#f5e08c" stroke-width=".5"/>
</g>
<!-- realty -->
<g stroke="#303030" stroke-width=".95">
<rect x="11.400" y="563.900" width="8.300" height="16.600" fill="#8c8c8c"/>
<path d="M12.800 566h5.500M12.800 568h5.500M12.800 570h5.500M12.800 572h5.500M12.800 574h5.500M12.800 576h5.500M12.800 578h5.500" fill="none" stroke="#e9e9e9" stroke-width=".7"/>
<path d="M19.700 580.500v-9.500c0-2.500 2-3.700 4.100-3.700s4.100 1.200 4.100 3.700v9.500z" fill="#ea8c7f" stroke="#6b2a25"/>
<path d="M21 571h1M23.300 571h1M25.600 571h1M21 574.200h1M23.300 574.200h1M25.600 574.200h1M21 577.400h1M23.300 577.400h1M25.600 577.400h1" fill="none" stroke="#b5332b" stroke-width="1"/>
</g>
<!-- internet -->
<g stroke="#333" stroke-width=".95" fill="none">
<path d="M215.500 569.500l-3 11M215.500 569.500l3 11M213.800 576h3.400M213.200 578.200h4.600M215.500 571v9.500"/>
<rect x="212.300" y="568.500" width="2.200" height="3.800" fill="#666"/><rect x="216.500" y="568.500" width="2.200" height="3.800" fill="#666"/>
<path d="M211 567.500c-1.200 1.800-1.200 4.500 0 6.300M209.300 566c-2 2.800-2 6.500 0 9.300M220 567.500c1.200 1.800 1.200 4.500 0 6.300M221.700 566c2 2.800 2 6.500 0 9.300M223.200 564.800c2.500 3.600 2.500 8.100 0 11.700M207.800 564.800c-2.500 3.600-2.500 8.100 0 11.700"/>
</g>
<!-- medicine -->
<path d="M408.700 567.300h4.700a.700.700 0 0 1 .7.700v3.600h3.700a.700.700 0 0 1 .7.700v4.300a.700.700 0 0 1-.7.700h-3.700v3.100a.700.700 0 0 1-.7.700h-4.700a.700.700 0 0 1-.7-.7v-3.100h-3.700a.700.700 0 0 1-.7-.7v-4.300a.700.700 0 0 1 .7-.7h3.700v-3.600a.700.700 0 0 1 .7-.7z" fill="#f4a59b" stroke="#4a4a4a" stroke-width=".9"/>
<!-- sport -->
<g stroke="#3f361c" stroke-width=".95">
<path d="M210.300 807.200c-2.500-.300-2.800 1.500-2 3.200s2.200 2.700 3.500 3M222.300 807.200c2.500-.300 2.800 1.500 2 3.200s-2.200 2.700-3.500 3" fill="none" stroke="#56707a"/>
<path d="M210.200 805.700h12.200c0 5-1.500 9-4.200 10.700l.9 6.100h-5.600l.9-6.100c-2.700-1.700-4.200-5.700-4.200-10.700z" fill="#f0d868"/>
<path d="M216.300 807.200l.9 1.900 2.100.300-1.500 1.500.4 2.100-1.900-1-1.900 1 .4-2.100-1.500-1.500 2.100-.300z" fill="#fff" stroke-width=".7"/>
</g>
<!-- social -->
<g stroke="#3f2420" stroke-width="1">
<path d="M11.400 1073.300l10.500-2.300v2.300" fill="#f0c0b6"/>
<rect x="11.400" y="1073.300" width="14.700" height="14.200" fill="#e3988a"/>
<path d="M14.600 1085.300c0-3 1.700-4.300 4.100-4.300s4.100 1.300 4.100 4.300zM18.700 1075.600a2.300 2.500 0 1 1 0 5a2.300 2.500 0 1 1 0-5z" fill="#fff" stroke-width=".6"/>
</g>
<!-- gos -->
<g stroke="#222c36" stroke-width=".95">
<path d="M202.600 1080.500v-9.200h9.600l2.600 2.600v6.600" fill="#fff"/>
<path d="M212.200 1071.300v2.600h2.600" fill="none" stroke-width=".6"/>
<path d="M204.300 1073.300h5.500M204.300 1075.300h5.500M204.300 1077.300h8.800M204.300 1079.300h8.800" fill="none" stroke-width=".7"/>
<path d="M201.300 1079.200l7.200 5 7.300-5v8.600h-14.500z" fill="#c0e0ea"/>
<path d="M201.300 1087.800l7.200-5.500 7.300 5.500" fill="none"/>
</g>
<!-- tourism -->
<g stroke="#1a2540" stroke-width="1">
<path d="M403.800 1087.500l6.400-15.300 4.900 11.500 2-4.500 3.300 8.300z" fill="#9fb5d8"/>
<path d="M410.200 1072.200l1.700 4-1.700-.800-1.700.800z" fill="#fff" stroke-width=".6"/>
<path d="M415.100 1077.200l-4.800 10.300M415.100 1077.200l4.500 10.300" fill="none"/>
</g>
<!-- security -->
<g stroke="#2b2b2b" stroke-width="1.05">
<path d="M14.500 1460.400v-3a4.200 4.200 0 0 1 8.400 0v3M16.600 1460.400v-2.700a2.100 2.100 0 0 1 4.200 0v2.700" fill="#c9c9c9"/>
<rect x="12.400" y="1460.400" width="13.400" height="9.100" rx="1" fill="#9a9a9a"/>
<rect x="17.500" y="1462.300" width="2.300" height="5.300" fill="#fff" stroke-width=".6"/>
</g>
<!-- moscow -->
<g stroke="#33191a" stroke-width=".95">
<path d="M209 1470.500v-5.500l1.200 1 1.300-1v5.500zM220.200 1470.500v-5.500l1.300 1 1.300-1v5.500z" fill="#e7a39b"/>
<path d="M212.200 1470.500v-8.500l3.600-8.500 3.600 8.500v8.500z" fill="#e7a39b"/>
<path d="M215.800 1451l.8 1.600 1.800.200-1.300 1.200.3 1.800-1.600-.9-1.600.9.300-1.800-1.300-1.200 1.800-.200z" fill="#e7a39b" stroke-width=".7"/>
<path d="M212.200 1462h7.200M213.400 1459h4.800" fill="none" stroke-width=".6"/>
<rect x="213.600" y="1464.600" width="4.500" height="4.500" fill="#f0c0b8" stroke-width=".6"/><circle cx="215.900" cy="1466.900" r="1.300" fill="#fff" stroke-width=".5"/>
</g>
<!-- education -->
<g stroke="#2b2b2b" stroke-width=".95">
<path d="M408.200 1463.500v6h10.700v-6" fill="#b5b5b5"/>
<path d="M404.700 1461.700l8.700-4.500 8.900 4.500-8.900 3.600z" fill="#9a9a9a"/>
<path d="M404.700 1461.700v4.500" fill="none"/><path d="M404.100 1466.200h1.300l.4 2.400h-2.100z" fill="#777" stroke-width=".5"/>
</g>
</g>
</svg>

<div class="src">Источник: ria.ru</div>
<div class="cred">Редактор: Светлана Прохорова. Дизайнер: Алина Сибирякова. Руководитель: Александр Вершинин. Арт-директор: Антон Степанов</div>
</body>
</html>
